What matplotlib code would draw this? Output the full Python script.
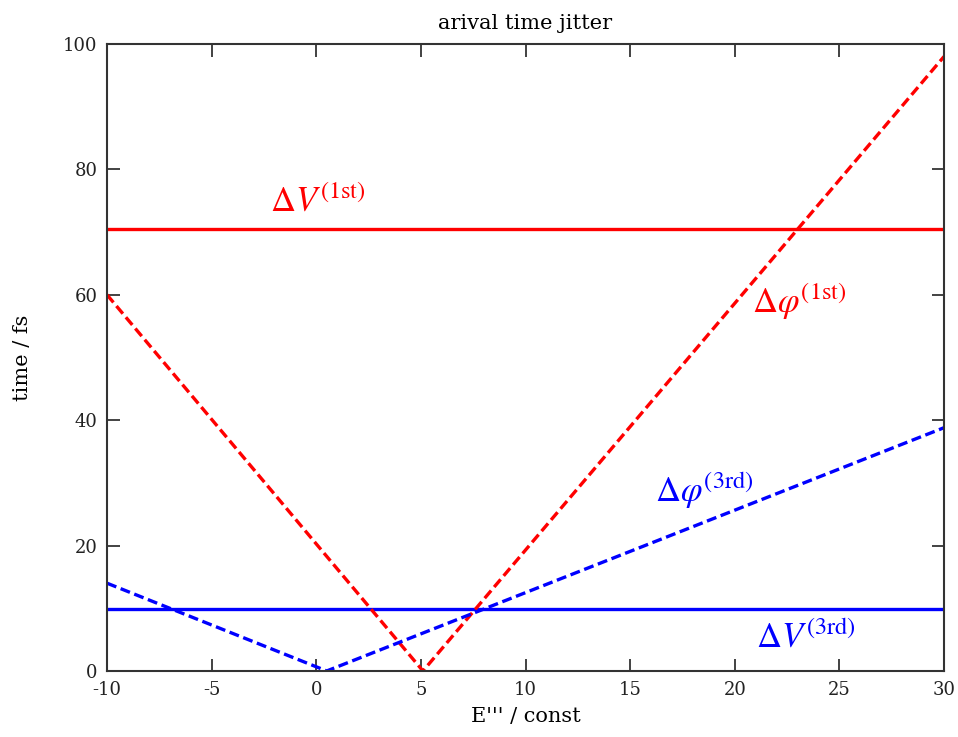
import matplotlib
matplotlib.use("Agg")
import matplotlib.pyplot as plt

# data
phi1_x = [-10, 5.1, 30]
phi1_y = [60, 0, 98]
phi3_x = [-10, 0.5, 30]
phi3_y = [14, 0, 38.8]
v1_level = 70.5
v3_level = 9.9

x_ticks = [-10, -5, 0, 5, 10, 15, 20, 25, 30]
y_ticks = [0, 20, 40, 60, 80, 100]

plt.rcParams['font.family'] = ['DejaVu Serif']
plt.rcParams['mathtext.fontset'] = 'stix'
plt.rcParams['axes.unicode_minus'] = False

fig = plt.figure(figsize=(9.58, 7.37), dpi=100)
ax = fig.add_axes([0.1117, 0.0896, 0.8737, 0.8507])

red = '#ff0000'
blue = '#0000ff'

ax.axhline(v1_level, color=red, lw=2.4)
ax.axhline(v3_level, color=blue, lw=2.4)
ax.plot(phi1_x, phi1_y, color=red, lw=2.4, dashes=(3, 1.4))
ax.plot(phi3_x, phi3_y, color=blue, lw=2.4, dashes=(3, 1.4))

ax.text(-2.2, 73.2, r'$\Delta V^{(1\mathrm{st})}$', color=red, fontsize=25, va='baseline')
ax.text(20.8, 57.1, r'$\Delta \varphi^{(1\mathrm{st})}$', color=red, fontsize=25, va='baseline')
ax.text(16.2, 27.0, r'$\Delta \varphi^{(3\mathrm{rd})}$', color=blue, fontsize=25, va='baseline')
ax.text(21.0, 3.8, r'$\Delta V^{(3\mathrm{rd})}$', color=blue, fontsize=25, va='baseline')

ax.set_xlim(-10, 30)
ax.set_ylim(0, 100)
ax.set_xticks(x_ticks)
ax.set_yticks(y_ticks)
ax.tick_params(direction='in', length=9, width=1.2, top=True, right=True,
               labelsize=13, pad=7, colors='#222222')
for sp in ax.spines.values():
    sp.set_linewidth(1.5)
    sp.set_color('#333333')

ax.set_title("arival time jitter", fontsize=15, pad=11)
ax.set_xlabel("E''' / const", fontsize=15, labelpad=6)
ax.set_ylabel("time / fs", fontsize=15, labelpad=22)

fig.savefig("out.png", dpi=100)
